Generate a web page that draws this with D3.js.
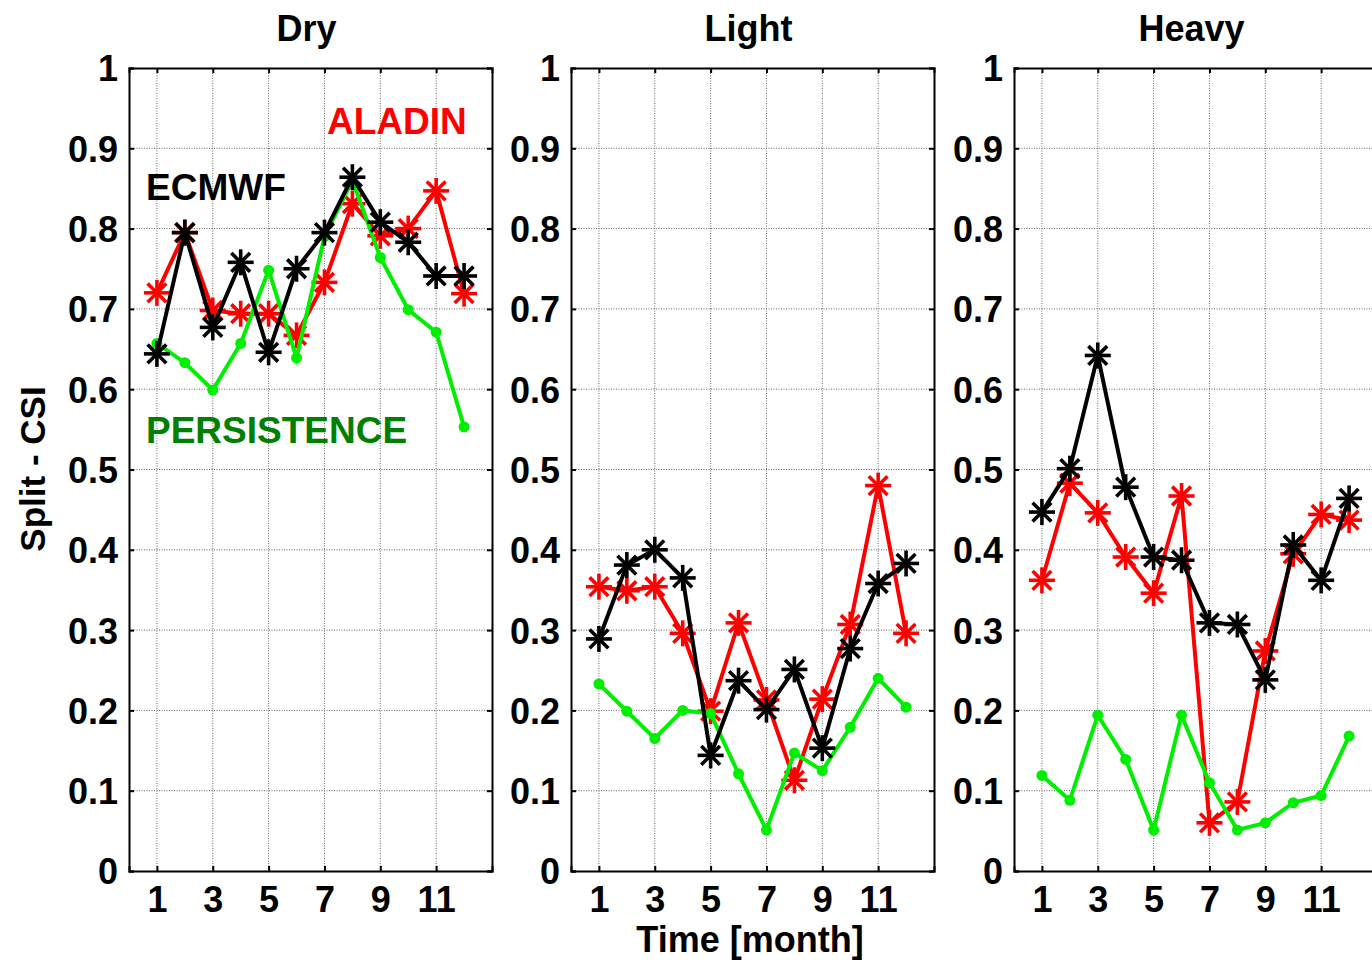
<!DOCTYPE html>
<html>
<head>
<meta charset="utf-8">
<script src="https://cdn.jsdelivr.net/npm/d3@7"></script>
<style>
  body { margin: 0; background: #fff; }
  text { font-family: Arial, "Liberation Sans", sans-serif; font-weight: bold; }
</style>
</head>
<body>
<svg id="chart"></svg>
<script>
let months = [1, 2, 3, 4, 5, 6, 7, 8, 9, 10, 11, 12]
let panelTitles = ['Dry', 'Light', 'Heavy']
let yTicks = [0, 0.1, 0.2, 0.3, 0.4, 0.5, 0.6, 0.7, 0.8, 0.9, 1]
let yTickLabels = ['0', '0.1', '0.2', '0.3', '0.4', '0.5', '0.6', '0.7', '0.8', '0.9', '1']
let xTicks = [1, 3, 5, 7, 9, 11]

let aladinDry = [0.72, 0.795, 0.698, 0.694, 0.694, 0.667, 0.733, 0.831, 0.791, 0.800, 0.847, 0.719]
let ecmwfDry = [0.644, 0.795, 0.677, 0.758, 0.646, 0.750, 0.795, 0.864, 0.808, 0.783, 0.741, 0.741]
let persDry = [0.657, 0.633, 0.599, 0.657, 0.748, 0.639, 0.79, 0.86, 0.764, 0.699, 0.671, 0.553]

let aladinLight = [0.354, 0.349, 0.354, 0.296, 0.199, 0.309, 0.213, 0.113, 0.214, 0.307, 0.480, 0.296]
let ecmwfLight = [0.289, 0.381, 0.400, 0.365, 0.144, 0.237, 0.201, 0.251, 0.153, 0.277, 0.358, 0.383]
let persLight = [0.233, 0.199, 0.165, 0.200, 0.196, 0.121, 0.051, 0.147, 0.125, 0.179, 0.240, 0.204]

let aladinHeavy = [0.362, 0.483, 0.446, 0.391, 0.346, 0.467, 0.060, 0.086, 0.274, 0.395, 0.444, 0.437]
let ecmwfHeavy = [0.447, 0.501, 0.642, 0.478, 0.391, 0.387, 0.309, 0.307, 0.238, 0.406, 0.362, 0.464]
let persHeavy = [0.119, 0.088, 0.194, 0.139, 0.051, 0.194, 0.110, 0.051, 0.060, 0.085, 0.094, 0.168]

let width = 1372
let height = 960
let plotTop = 68
let plotBottom = 871
let panelLefts = [129, 571, 1014]
let panelWidth = 363
let fontSize = 36

let panels = [
    { aladin: aladinDry, ecmwf: ecmwfDry, pers: persDry },
    { aladin: aladinLight, ecmwf: ecmwfLight, pers: persLight },
    { aladin: aladinHeavy, ecmwf: ecmwfHeavy, pers: persHeavy }
]

let svg = d3.select('#chart')
    .attr('width', width)
    .attr('height', height)

let yScale = d3.scaleLinear().domain([0, 1]).range([plotBottom, plotTop])

// MATLAB-like '*' marker
let drawStar = (g, x, y, color) => {
    let r = 13
    let d = r * 0.72
    let segs = [[-r, 0, r, 0], [0, -r, 0, r], [-d, -d, d, d], [-d, d, d, -d]]
    segs.forEach(s => {
        g.append('line')
         .attr('x1', x + s[0]).attr('y1', y + s[1])
         .attr('x2', x + s[2]).attr('y2', y + s[3])
         .attr('stroke', color)
         .attr('stroke-width', 3.6)
    })
}

panels.forEach((p, i) => {
    let left = panelLefts[i]
    let xScale = d3.scaleLinear().domain([0, 13]).range([left, left + panelWidth])
    let g = svg.append('g')

    // grid
    g.selectAll('.hgrid')
     .data(yTicks.slice(1, -1))
     .enter()
     .append('line')
     .attr('x1', left).attr('x2', left + panelWidth)
     .attr('y1', d => yScale(d)).attr('y2', d => yScale(d))
     .attr('stroke', '#666').attr('stroke-width', 1).attr('stroke-dasharray', '1,1.5')
    g.selectAll('.vgrid')
     .data(xTicks)
     .enter()
     .append('line')
     .attr('x1', d => xScale(d)).attr('x2', d => xScale(d))
     .attr('y1', plotTop).attr('y2', plotBottom)
     .attr('stroke', '#666').attr('stroke-width', 1).attr('stroke-dasharray', '1,1.5')

    // axes with inward ticks
    let yAxis = d3.axisLeft(yScale).tickValues(yTicks).tickSize(-5).tickPadding(11)
        .tickFormat((d, k) => yTickLabels[k])
    let yAxisR = d3.axisRight(yScale).tickValues(yTicks).tickSize(-5).tickFormat('')
    let xAxis = d3.axisBottom(xScale).tickValues(xTicks).tickSize(-5).tickPadding(15)
    let xAxisT = d3.axisTop(xScale).tickValues(xTicks).tickSize(-5).tickFormat('')

    let ya = g.append('g').attr('transform', 'translate(' + left + ',0)').call(yAxis)
    g.append('g').attr('transform', 'translate(' + (left + panelWidth) + ',0)').call(yAxisR)
    let xa = g.append('g').attr('transform', 'translate(0,' + plotBottom + ')').call(xAxis)
    g.append('g').attr('transform', 'translate(0,' + plotTop + ')').call(xAxisT)

    g.selectAll('.domain').attr('stroke', '#000').attr('stroke-width', 2)
    g.selectAll('.tick line').attr('stroke', '#000').attr('stroke-width', 2)
    ya.selectAll('text').style('font-size', fontSize + 'px').attr('fill', '#000').attr('dy', '0.36em')
    xa.selectAll('text').style('font-size', fontSize + 'px').attr('fill', '#000').attr('dy', '0.71em')

    // title
    g.append('text')
     .attr('x', left + panelWidth / 2 - 4)
     .attr('y', 41)
     .attr('text-anchor', 'middle')
     .style('font-size', fontSize + 'px')
     .text(panelTitles[i])

    let line = d3.line()
        .x((d, k) => xScale(months[k]))
        .y(d => yScale(d))

    // ALADIN
    g.append('path').datum(p.aladin).attr('d', line)
     .attr('fill', 'none').attr('stroke', '#ff0000').attr('stroke-width', 4)
    p.aladin.forEach((v, k) => drawStar(g, xScale(months[k]), yScale(v), '#ff0000'))

    // PERSISTENCE
    g.append('path').datum(p.pers).attr('d', line)
     .attr('fill', 'none').attr('stroke', '#00ee00').attr('stroke-width', 4)
    g.selectAll('.dot')
     .data(p.pers)
     .enter()
     .append('circle')
     .attr('cx', (d, k) => xScale(months[k]))
     .attr('cy', d => yScale(d))
     .attr('r', 5.5)
     .attr('fill', '#00ee00')

    // ECMWF
    g.append('path').datum(p.ecmwf).attr('d', line)
     .attr('fill', 'none').attr('stroke', '#000').attr('stroke-width', 4)
    p.ecmwf.forEach((v, k) => drawStar(g, xScale(months[k]), yScale(v), '#000'))
})

// legend text in first panel
svg.append('text').attr('x', 327).attr('y', 134).style('font-size', '37px')
   .attr('fill', '#ff0000').text('ALADIN')
svg.append('text').attr('x', 146).attr('y', 200).style('font-size', '37px')
   .attr('fill', '#000').text('ECMWF')
svg.append('text').attr('x', 146).attr('y', 443).style('font-size', '37px')
   .attr('fill', '#008000').text('PERSISTENCE')

// axis labels
svg.append('text')
   .attr('transform', 'translate(45,469) rotate(-90)')
   .attr('text-anchor', 'middle')
   .style('font-size', '35px')
   .text('Split - CSI')
svg.append('text')
   .attr('x', 750).attr('y', 952)
   .attr('text-anchor', 'middle')
   .style('font-size', fontSize + 'px')
   .text('Time [month]')
</script>
</body>
</html>
